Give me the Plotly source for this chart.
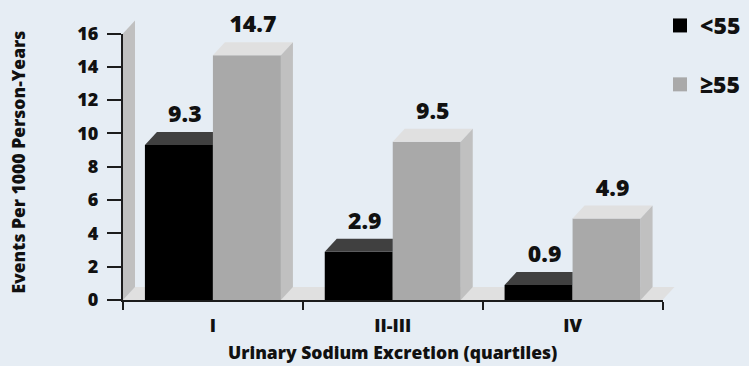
import plotly.graph_objects as go

# ---- data -------------------------------------------------------------
categories = ["I", "II-III", "IV"]
series_names = ["<55", "\u226555"]
under55 = [9.3, 2.9, 0.9]
over55 = [14.7, 9.5, 4.9]
y_tick_values = [0, 2, 4, 6, 8, 10, 12, 14, 16]

# ---- layout constants ----------------------------------------------------
W, H = 749, 366
BG = "#e6edf4"
AXIS_COLOR = "#1c1c1c"
TEXT_COLOR = "#111111"
FONT = "Open Sans"

# axis box (pixels) and its value ranges
AX_L, AX_R, AX_T, AX_B = 123.0, 662.5, 33.5, 300.0
X_MIN, X_MAX = -0.5, len(categories) - 0.5
Y_MIN, Y_MAX = 0, 16
px_x = (AX_R - AX_L) / (X_MAX - X_MIN)
px_y = (AX_B - AX_T) / (Y_MAX - Y_MIN)

# larger drawing box that also holds the depth effect
DR_L, DR_R, DR_T, DR_B = 105.0, 700.0, 4.0, 312.0
draw_xrange = [X_MIN - (AX_L - DR_L) / px_x, X_MAX + (DR_R - AX_R) / px_x]
draw_yrange = [Y_MIN - (DR_B - AX_B) / px_y, Y_MAX + (AX_T - DR_T) / px_y]

DX = 12 / px_x          # depth offset, x units
DY = 13 / px_y          # depth offset, y units
BAR_W = 68 / px_x       # width of one bar, x units
LABEL_PAD = 4 / px_y    # gap between a top face and its value label

front = ["#000000", "#a9a9a9"]
top = ["#404040", "#e0e0e0"]
side = ["#262626", "#c0c0c0"]


def xdom(l, r):
    return [l / W, r / W]


def ydom(t, b):
    return [1 - b / H, 1 - t / H]


def font(size):
    return dict(family=FONT, size=size, color=TEXT_COLOR, weight=800)


fig = go.Figure()

# front faces
xs = list(range(len(categories)))
for k, (vals, off) in enumerate([(under55, -BAR_W), (over55, 0.0)]):
    fig.add_trace(go.Bar(
        x=xs, y=vals, width=BAR_W, offset=off,
        marker=dict(color=front[k], line=dict(width=0)),
        showlegend=False, hoverinfo="skip",
        xaxis="x", yaxis="y",
    ))


def poly(px, py, color):
    fig.add_trace(go.Scatter(
        x=px + [px[0]], y=py + [py[0]], mode="lines", fill="toself",
        fillcolor=color, line=dict(width=0, color=color),
        showlegend=False, hoverinfo="skip", xaxis="x", yaxis="y",
    ))


# top and side faces
for i, (a, b) in enumerate(zip(under55, over55)):
    x0, x1, x2 = i - BAR_W, i, i + BAR_W
    # left bar: the part of its top face behind the right bar is hidden
    right_edge = x1 if b >= a + DY else x1 + DX
    poly([x0, x0 + DX, right_edge, x1], [a, a + DY, a + DY, a], top[0])
    if b < a + DY:
        poly([x1, x1 + DX, x1 + DX, x1], [max(a, b), a + DY, DY, 0], side[0])
    # right bar
    poly([x1, x1 + DX, x2 + DX, x2], [b, b + DY, b + DY, b], top[1])
    poly([x2, x2 + DX, x2 + DX, x2], [b, b + DY, DY, 0], side[1])

# value labels centred on the top faces
lab_x, lab_y, lab_t = [], [], []
for i, (a, b) in enumerate(zip(under55, over55)):
    lab_x += [i - BAR_W / 2 + DX / 2, i + BAR_W / 2 + DX / 2]
    lab_y += [a + DY + LABEL_PAD, b + DY + LABEL_PAD]
    lab_t += [f"{a:.1f}", f"{b:.1f}"]
fig.add_trace(go.Scatter(
    x=lab_x, y=lab_y, text=lab_t, mode="text", textposition="top center",
    textfont=font(23),
    cliponaxis=False, showlegend=False, hoverinfo="skip",
    xaxis="x", yaxis="y",
))

# legend entries (carried on the axis subplot)
for k, name in enumerate(series_names):
    fig.add_trace(go.Scatter(
        x=[None], y=[None], mode="markers", name=name,
        marker=dict(symbol="square", size=14, color=front[k]),
        legendgroup=name, xaxis="x2", yaxis="y2",
    ))

# floor and left wall behind the bars
floor = (f"M {X_MIN},0 L {X_MIN + DX},{DY} L {X_MAX + DX},{DY} "
         f"L {X_MAX},0 Z")
wall = (f"M {X_MIN},0 L {X_MIN},{Y_MAX} L {X_MIN + DX},{Y_MAX + DY} "
        f"L {X_MIN + DX},{DY} Z")
shapes = [
    dict(type="path", path=floor, xref="x", yref="y", layer="below",
         fillcolor="#e0e0e0", line=dict(width=0)),
    dict(type="path", path=wall, xref="x", yref="y", layer="below",
         fillcolor="#c0c0c0", line=dict(width=0)),
]

fig.update_layout(
    width=W, height=H,
    margin=dict(l=0, r=0, t=0, b=0, autoexpand=False),
    paper_bgcolor=BG, plot_bgcolor="rgba(0,0,0,0)",
    barmode="overlay",
    shapes=shapes,
    showlegend=True,
    legend=dict(
        x=660 / W, y=1 - 4 / H, xanchor="left", yanchor="top",
        bgcolor="rgba(0,0,0,0)", tracegroupgap=26,
        font=font(23),
    ),
    xaxis=dict(domain=xdom(DR_L, DR_R), range=draw_xrange, visible=False,
               fixedrange=True, automargin=False),
    yaxis=dict(domain=ydom(DR_T, DR_B), range=draw_yrange, visible=False,
               fixedrange=True, automargin=False),
    xaxis2=dict(
        domain=xdom(AX_L, AX_R), range=[X_MIN, X_MAX], anchor="y2",
        showline=True, linecolor=AXIS_COLOR, linewidth=2,
        showgrid=False, zeroline=False, automargin=False,
        tickmode="array", tickvals=xs, ticktext=categories, ticks="",
        tickfont=font(18),
        ticklabelstandoff=8,
        minor=dict(tickmode="array",
                   tickvals=[i - 0.5 for i in range(len(categories) + 1)],
                   ticks="outside", ticklen=8, tickwidth=2,
                   tickcolor=AXIS_COLOR),
        fixedrange=True,
    ),
    yaxis2=dict(
        domain=ydom(AX_T, AX_B), range=[Y_MIN, Y_MAX], anchor="x2",
        showline=True, linecolor=AXIS_COLOR, linewidth=2,
        showgrid=False, zeroline=False, automargin=False,
        tickmode="array", tickvals=y_tick_values, ticks="outside",
        ticklen=14, tickwidth=2, tickcolor=AXIS_COLOR,
        tickfont=font(18), ticklabelstandoff=5,
        fixedrange=True,
    ),
    annotations=[
        dict(text="Urinary Sodium Excretion (quartiles)", xref="paper",
             yref="paper", x=392.5 / W, y=1 - 352 / H, xanchor="center",
             yanchor="middle", showarrow=False, font=font(17.5)),
        dict(text="Events Per 1000 Person-Years", xref="paper",
             yref="paper", x=17 / W, y=1 - 162.5 / H, xanchor="center",
             yanchor="middle", textangle=-90, showarrow=False,
             font=font(17.5)),
    ],
)

fig.write_html("out.html")
